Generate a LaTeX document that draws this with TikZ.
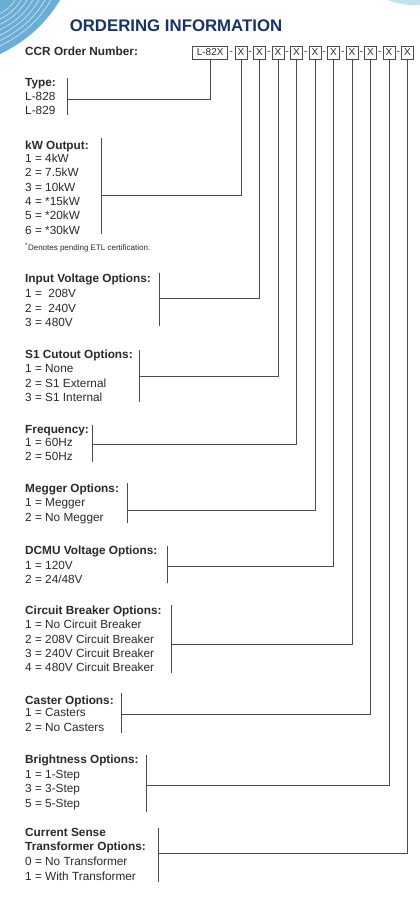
\documentclass[tikz,border=0pt]{standalone}
\usepackage{fontspec}
\setmainfont{Liberation Sans}
\definecolor{txtc}{HTML}{2A2A2A}
\definecolor{linec}{HTML}{4A4A4A}
\definecolor{titlec}{HTML}{173463}
\definecolor{swirlA}{HTML}{6AAED6}
\definecolor{swirlB}{HTML}{C4E0EF}
\begin{document}
\begin{tikzpicture}[x=1pt,y=-1pt,
  txt/.style={anchor=base west,inner sep=0,font=\fontsize{11.8}{14}\selectfont,text=txtc},
  hd/.style={anchor=base west,inner sep=0,font=\fontsize{11.8}{14}\selectfont\bfseries,text=txtc},
  box/.style={draw=linec,line width=0.8pt,inner sep=0,minimum height=13pt,font=\fontsize{10}{12}\selectfont,text=txtc},
  hyph/.style={inner sep=0,font=\fontsize{10}{12}\selectfont,text=txtc},
  conn/.style={draw=linec,line width=1pt},
  brk/.style={draw=linec,line width=1pt}]
\useasboundingbox (0,0) rectangle (420,900);
\fill[white] (0,0) rectangle (420,900);
% decorative corners
\fill[swirlA] (0,0) -- (60,0) .. controls (45,25) and (25,42) .. (0,54) -- cycle;
\foreach \f in {0.25,0.35,...,0.95}
  \draw[white,line width=0.5pt,opacity=0.8] (60*\f,0) .. controls (45*\f,25*\f) and (25*\f,42*\f) .. (0,54*\f);
\fill[swirlB] (388,0) .. controls (398,4) and (410,6) .. (420,5) -- (420,0) -- cycle;
% title
\node[font=\fontsize{16.8}{20}\selectfont\bfseries,text=titlec,inner sep=0] (title) at (176,25.5) {ORDERING INFORMATION};
\node[hd] (ccr) at (25,55.9) {CCR Order Number:};
% boxes
\node[box,minimum width=35pt] (b0) at (210.2,52.5) {L-82X};
\foreach \i/\x in {1/241,2/259.5,3/278,4/296.5,5/315,6/333.5,7/352,8/370.5,9/389,10/407.5}
  \node[box,minimum width=12pt] (b\i) at (\x,52.5) {X};
\node[hyph] (h0) at (231.3,52.5) {-};
\foreach \i/\x in {1/250.2,2/268.7,3/287.2,4/305.7,5/324.2,6/342.7,7/361.2,8/379.7,9/398.2}
  \node[hyph] (h\i) at (\x,52.5) {-};
% Type
\node[hd] (tH) at (25,86.7) {Type:};
\node[txt] (t1) at (25,100.7) {L-828};
\node[txt] (t2) at (25,114.3) {L-829};
\coordinate (cT) at (67,99);
\draw[brk] (67,78) -- (67,115);
% kW
\node[hd] (kH) at (25,149.2) {kW Output:};
\node[txt] (k1) at (25,162.5) {1 = 4kW};
\node[txt] (k2) at (25,176.9) {2 = 7.5kW};
\node[txt] (k3) at (25,191.5) {3 = 10kW};
\node[txt] (k4) at (25,205.9) {4 = *15kW};
\node[txt] (k5) at (25,219.9) {5 = *20kW};
\node[txt] (k6) at (25,234.2) {6 = *30kW};
\node[txt,font=\fontsize{8}{10}\selectfont] (fn) at (25,250) {\textsuperscript{*}Denotes pending ETL certification.};
\coordinate (cK) at (101,195);
\draw[brk] (101,138) -- (101,234);
% Input voltage
\node[hd] (iH) at (25,282.5) {Input Voltage Options:};
\node[txt] (i1) at (25,297.5) {1 = \ 208V};
\node[txt] (i2) at (25,312.5) {2 = \ 240V};
\node[txt] (i3) at (25,326.5) {3 = 480V};
\coordinate (cI) at (159,298);
\draw[brk] (159,273) -- (159,326);
% S1
\node[hd] (sH) at (25,358.5) {S1 Cutout Options:};
\node[txt] (s1) at (25,372.9) {1 = None};
\node[txt] (s2) at (25,387.5) {2 = S1 External};
\node[txt] (s3) at (25,401.9) {3 = S1 Internal};
\coordinate (cS) at (139,376);
\draw[brk] (139,350) -- (139,402);
% Frequency
\node[hd] (fH) at (25,433.5) {Frequency:};
\node[txt] (f1) at (25,446.9) {1 = 60Hz};
\node[txt] (f2) at (25,460.9) {2 = 50Hz};
\coordinate (cF) at (92,444);
\draw[brk] (92,425) -- (92,462);
% Megger
\node[hd] (mH) at (25,492.5) {Megger Options:};
\node[txt] (m1) at (25,506.9) {1 = Megger};
\node[txt] (m2) at (25,521.5) {2 = No Megger};
\coordinate (cM) at (127,510);
\draw[brk] (127,483) -- (127,523);
% DCMU
\node[hd] (dH) at (25,554.2) {DCMU Voltage Options:};
\node[txt] (d1) at (25,569.2) {1 = 120V};
\node[txt] (d2) at (25,583.2) {2 = 24/48V};
\coordinate (cD) at (167,566);
\draw[brk] (167,546) -- (167,583);
% Circuit breaker
\node[hd] (cbH) at (25,614.2) {Circuit Breaker Options:};
\node[txt] (cb1) at (25,628.5) {1 = No Circuit Breaker};
\node[txt] (cb2) at (25,643.2) {2 = 208V Circuit Breaker};
\node[txt] (cb3) at (25,657.5) {3 = 240V Circuit Breaker};
\node[txt] (cb4) at (25,671.5) {4 = 480V Circuit Breaker};
\coordinate (cC) at (171,644);
\draw[brk] (171,605) -- (171,673);
% Caster
\node[hd] (caH) at (25,704.2) {Caster Options:};
\node[txt] (ca1) at (25,716.9) {1 = Casters};
\node[txt] (ca2) at (25,731.9) {2 = No Casters};
\coordinate (cA) at (121,714);
\draw[brk] (121,693) -- (121,733);
% Brightness
\node[hd] (brH) at (25,763.5) {Brightness Options:};
\node[txt] (br1) at (25,778.2) {1 = 1-Step};
\node[txt] (br2) at (25,792.9) {3 = 3-Step};
\node[txt] (br3) at (25,807.5) {5 = 5-Step};
\coordinate (cB) at (146,785);
\draw[brk] (146,755) -- (146,812);
% Current sense
\node[hd] (csH) at (25,836.5) {Current Sense};
\node[hd] (csH2) at (25,850.9) {Transformer Options:};
\node[txt] (cs1) at (25,865.9) {0 = No Transformer};
\node[txt] (cs2) at (25,880.2) {1 = With Transformer};
\coordinate (cX) at (158,853);
\draw[brk] (158,828) -- (158,882);
% connectors
\draw[conn] (b0.south) |- (cT);
\draw[conn] (b1.south) |- (cK);
\draw[conn] (b2.south) |- (cI);
\draw[conn] (b3.south) |- (cS);
\draw[conn] (b4.south) |- (cF);
\draw[conn] (b5.south) |- (cM);
\draw[conn] (b6.south) |- (cD);
\draw[conn] (b7.south) |- (cC);
\draw[conn] (b8.south) |- (cA);
\draw[conn] (b9.south) |- (cB);
\draw[conn] (b10.south) |- (cX);
\end{tikzpicture}
\end{document}
